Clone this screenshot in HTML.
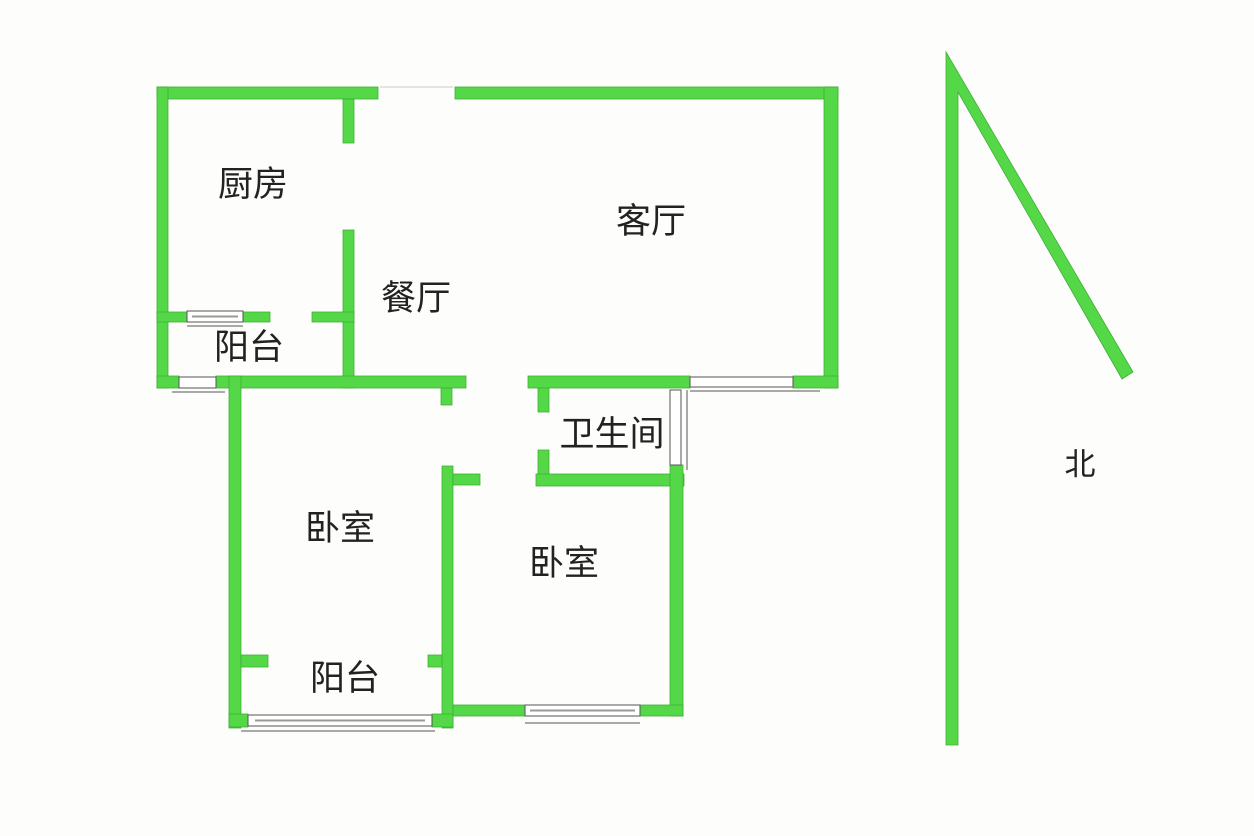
<!DOCTYPE html>
<html><head><meta charset="utf-8"><style>
html,body{margin:0;padding:0;background:#fdfdfb;}
svg{display:block}
text{font-family:"Liberation Sans","Noto Sans CJK SC",sans-serif;fill:#222;font-size:35px;}
</style></head><body>
<svg width="1254" height="836" viewBox="0 0 1254 836" xmlns="http://www.w3.org/2000/svg">
<rect width="1254" height="836" fill="#fdfdfb"/>
<g fill="#55d848" stroke="#3fae35" stroke-width="0.8">
<rect x="157" y="87" width="221" height="12"/>
<rect x="455" y="87" width="383" height="12"/>
<rect x="157" y="87" width="11" height="301"/>
<rect x="824" y="87" width="14" height="301"/>
<rect x="343" y="99" width="11" height="44"/>
<rect x="343" y="230" width="11" height="158"/>
<rect x="157" y="312" width="30" height="10"/>
<rect x="243" y="312" width="27" height="10"/>
<rect x="312" y="312" width="42" height="10"/>
<rect x="216" y="376" width="250" height="12"/>
<rect x="157" y="376" width="22" height="12"/>
<rect x="441" y="388" width="11" height="17"/>
<rect x="528" y="376" width="162" height="12"/>
<rect x="793" y="376" width="45" height="12"/>
<rect x="538" y="388" width="11" height="24"/>
<rect x="538" y="450" width="11" height="25"/>
<rect x="536" y="474" width="148" height="12"/>
<rect x="670" y="465" width="13" height="251"/>
<rect x="442" y="466" width="11" height="262"/>
<rect x="453" y="474" width="27" height="11"/>
<rect x="453" y="705" width="72" height="11"/>
<rect x="640" y="705" width="43" height="11"/>
<rect x="229" y="376" width="12" height="352"/>
<rect x="229" y="714" width="19" height="13"/>
<rect x="432" y="714" width="21" height="13"/>
<rect x="241" y="655" width="27" height="12"/>
<rect x="428" y="655" width="14" height="12"/>
<polygon points="946,52 1133,372 1122,379 958,92 958,745 946,745"/>
</g>
<g fill="none" stroke="#555" stroke-width="1">
<rect x="187" y="311" width="56" height="11" fill="#fff"/>
<line x1="192" y1="316.5" x2="238" y2="316.5" stroke="#999" stroke-width="2"/>
<line x1="187" y1="326" x2="243" y2="326"/>
<rect x="179" y="377" width="37" height="11" fill="#fff"/>
<line x1="172" y1="392" x2="225" y2="392"/>
<rect x="690" y="377" width="103" height="10" fill="#fff"/>
<line x1="690" y1="391" x2="820" y2="391"/>
<rect x="670" y="390" width="11" height="75" fill="#fff"/>
<line x1="687" y1="390" x2="687" y2="470"/>
<rect x="248" y="715" width="184" height="11" fill="#fff"/>
<line x1="255" y1="720.5" x2="425" y2="720.5" stroke="#999" stroke-width="2"/>
<line x1="241" y1="731" x2="435" y2="731"/>
<rect x="525" y="705" width="115" height="11" fill="#fff"/>
<line x1="530" y1="710.5" x2="635" y2="710.5" stroke="#999" stroke-width="2"/>
<line x1="525" y1="723" x2="640" y2="723"/>
<line x1="380" y1="87" x2="453" y2="87" stroke="#ccc"/>
</g>
<text x="253" y="196" text-anchor="middle">厨房</text>
<text x="651" y="233" text-anchor="middle">客厅</text>
<text x="416" y="310" text-anchor="middle">餐厅</text>
<text x="249" y="359" text-anchor="middle">阳台</text>
<text x="612" y="446" text-anchor="middle">卫生间</text>
<text x="340" y="540" text-anchor="middle">卧室</text>
<text x="564" y="575" text-anchor="middle">卧室</text>
<text x="345" y="690" text-anchor="middle">阳台</text>
<text x="1080" y="475" text-anchor="middle" style="font-size:31px">北</text>
</svg>
</body></html>
